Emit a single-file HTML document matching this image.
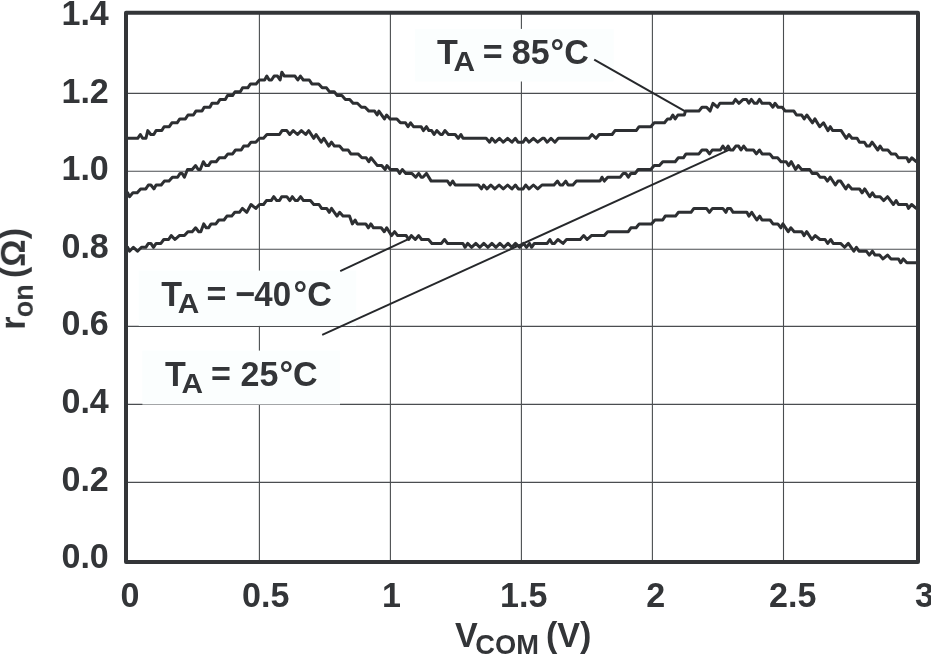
<!DOCTYPE html>
<html><head><meta charset="utf-8"><title>r_on vs V_COM</title>
<style>html,body{margin:0;padding:0;background:#fff;}body{width:931px;height:655px;overflow:hidden;position:relative;font-family:"Liberation Sans",sans-serif;}</style>
</head><body>
<svg width="931" height="655" viewBox="0 0 931 655" style="position:absolute;left:0;top:0">
<rect x="0" y="0" width="931" height="655" fill="#fff"/>
<line x1="259.4" y1="14" x2="259.4" y2="561" stroke="#4a4d50" stroke-width="1.1"/>
<line x1="390.4" y1="14" x2="390.4" y2="561" stroke="#4a4d50" stroke-width="1.1"/>
<line x1="521.4" y1="14" x2="521.4" y2="561" stroke="#4a4d50" stroke-width="1.1"/>
<line x1="652.4" y1="14" x2="652.4" y2="561" stroke="#4a4d50" stroke-width="1.1"/>
<line x1="783.5" y1="14" x2="783.5" y2="561" stroke="#4a4d50" stroke-width="1.1"/>
<line x1="127" y1="93.4" x2="917" y2="93.4" stroke="#4a4d50" stroke-width="1.1"/>
<line x1="127" y1="171.2" x2="917" y2="171.2" stroke="#4a4d50" stroke-width="1.1"/>
<line x1="127" y1="249.3" x2="917" y2="249.3" stroke="#4a4d50" stroke-width="1.1"/>
<line x1="127" y1="326.4" x2="917" y2="326.4" stroke="#4a4d50" stroke-width="1.1"/>
<line x1="127" y1="404.4" x2="917" y2="404.4" stroke="#4a4d50" stroke-width="1.1"/>
<line x1="127" y1="482.4" x2="917" y2="482.4" stroke="#4a4d50" stroke-width="1.1"/>
<rect x="415.2" y="28.9" width="198.5" height="52.6" fill="#fbfefe"/>
<rect x="138.8" y="270.6" width="217.4" height="55.3" fill="#fbfefe"/>
<rect x="142.4" y="350.6" width="197.6" height="53.9" fill="#fbfefe"/>
<line x1="594.2" y1="59.6" x2="684.8" y2="111.2" stroke="#26282b" stroke-width="1.95"/>
<line x1="340.2" y1="271.2" x2="410" y2="238.4" stroke="#26282b" stroke-width="1.95"/>
<line x1="322.2" y1="334.9" x2="730.6" y2="149.2" stroke="#26282b" stroke-width="1.95"/>
<path d="M127.5 138.3 L137.7 138.3 L140.3 134.5 L142.6 138.3 L145.9 138.3 L147.8 130.6 L150.8 134.5 L153.8 134.5 L156.1 130.6 L161.8 130.6 L164.1 126.7 L169.3 126.7 L171.9 122.8 L177.1 122.8 L179.8 118.9 L185.4 118.9 L188.0 115.0 L193.4 115.0 L195.9 111.1 L202.0 111.1 L204.2 107.2 L209.9 107.2 L212.0 103.3 L217.7 103.3 L220.0 99.4 L225.3 99.4 L227.5 95.6 L232.5 95.6 L235.0 91.7 L240.3 91.7 L242.6 87.8 L247.8 87.8 L250.5 83.9 L256.1 83.9 L259.5 80.0 L264.6 80.0 L266.8 76.1 L269.2 80.0 L271.5 80.0 L274.1 76.1 L277.5 76.1 L280.1 80.0 L281.8 72.2 L284.4 76.1 L295.0 76.1 L297.8 80.0 L300.4 76.1 L303.3 80.0 L309.3 80.0 L311.9 83.9 L318.7 83.9 L322.2 87.8 L326.5 87.8 L329.4 91.7 L334.2 91.7 L337.3 95.6 L341.9 95.6 L345.4 99.4 L349.7 99.4 L353.1 103.3 L357.4 103.3 L361.4 107.2 L365.1 107.2 L368.9 111.1 L374.6 111.1 L377.2 115.0 L378.9 111.1 L384.4 118.9 L386.6 115.0 L390.1 118.9 L396.9 118.9 L400.4 122.8 L405.5 122.8 L408.0 126.7 L410.6 122.8 L413.5 126.7 L421.2 126.7 L423.4 130.6 L426.5 126.7 L428.9 130.6 L431.7 130.6 L434.1 134.5 L436.8 130.6 L440.6 134.5 L442.3 134.5 L444.9 130.6 L448.4 134.5 L455.2 134.5 L458.2 138.3 L460.9 134.5 L463.0 138.3 L486.2 138.3 L489.6 142.2 L491.8 138.3 L495.3 142.2 L499.4 138.3 L503.3 142.2 L507.6 138.3 L511.9 142.2 L515.4 138.3 L518.0 142.2 L523.1 142.2 L525.7 138.3 L529.1 142.2 L533.4 138.3 L537.7 142.2 L542.4 138.3 L544.1 138.3 L547.2 142.2 L551.0 138.3 L554.9 142.2 L558.3 138.3 L588.9 138.3 L592.0 134.5 L596.1 138.3 L599.2 134.5 L612.1 134.5 L615.0 130.6 L636.2 130.6 L639.1 126.7 L650.8 126.7 L654.2 122.8 L664.5 122.8 L667.6 118.9 L670.5 118.9 L672.8 115.0 L675.2 118.9 L677.9 115.0 L684.3 115.0 L685.5 111.1 L698.9 111.1 L702.0 107.2 L706.6 107.2 L710.1 111.1 L713.0 103.3 L717.4 107.2 L719.9 103.3 L732.9 103.3 L735.5 99.4 L738.9 103.3 L743.2 99.4 L746.6 99.4 L748.9 103.3 L751.4 99.4 L754.4 103.3 L756.9 103.3 L759.5 99.4 L762.1 103.3 L769.8 103.3 L772.9 107.2 L775.0 103.3 L778.1 107.2 L782.2 107.2 L785.3 111.1 L793.9 111.1 L796.5 115.0 L801.6 115.0 L804.2 118.9 L806.8 115.0 L812.5 122.8 L814.9 118.9 L819.7 126.7 L823.5 122.8 L827.9 130.6 L830.3 126.7 L832.6 130.6 L841.2 130.6 L846.3 138.3 L848.9 134.5 L852.0 138.3 L857.1 138.3 L859.5 142.2 L864.4 142.2 L866.9 146.1 L869.5 146.1 L872.1 142.2 L877.8 150.0 L880.1 146.1 L882.7 150.0 L887.9 150.0 L891.3 153.9 L895.6 153.9 L898.5 157.8 L906.8 157.8 L908.8 161.7 L911.9 157.8 L916.2 161.7" fill="none" stroke="#2d2f32" stroke-width="3.0" stroke-linejoin="round" stroke-linecap="round"/>
<path d="M127.7 192.8 L129.5 196.7 L132.9 192.8 L137.2 192.8 L140.6 188.9 L145.8 188.9 L148.4 185.0 L150.9 185.0 L153.9 188.9 L156.1 185.0 L161.2 185.0 L164.3 181.1 L169.0 181.1 L172.4 177.2 L177.6 177.2 L180.1 173.4 L182.2 173.4 L184.4 177.2 L187.5 169.5 L192.2 169.5 L195.6 165.6 L198.2 169.5 L200.3 169.5 L203.3 161.7 L205.9 165.6 L208.5 165.6 L211.1 161.7 L216.2 161.7 L219.3 157.8 L224.8 157.8 L227.9 153.9 L232.6 153.9 L235.5 150.0 L241.2 150.0 L243.7 146.1 L248.0 146.1 L251.0 142.2 L255.8 142.2 L259.5 138.3 L263.5 138.3 L266.9 134.5 L279.5 134.5 L282.0 130.6 L286.8 130.6 L289.8 134.5 L293.2 130.6 L297.5 134.5 L301.4 130.6 L305.7 134.5 L308.7 130.6 L313.8 138.3 L316.1 134.5 L321.2 142.2 L323.8 138.3 L328.8 146.1 L331.5 142.2 L334.4 146.1 L339.6 146.1 L343.0 150.0 L348.2 150.0 L350.8 153.9 L358.0 153.9 L361.9 157.8 L366.2 157.8 L368.8 161.7 L371.0 157.8 L377.4 165.6 L381.7 165.6 L385.1 169.5 L386.9 165.6 L390.3 169.5 L397.2 169.5 L399.7 173.4 L402.3 169.5 L405.8 173.4 L411.8 173.4 L415.7 177.2 L418.7 173.4 L421.2 177.2 L422.9 177.2 L426.4 173.4 L431.2 181.1 L447.5 181.1 L450.1 185.0 L452.7 181.1 L455.2 185.0 L478.4 185.0 L481.5 188.9 L483.6 185.0 L487.0 188.9 L490.8 185.0 L494.8 188.9 L499.1 185.0 L503.3 188.9 L507.6 185.0 L511.9 188.9 L515.4 185.0 L518.3 188.9 L523.1 188.9 L525.7 185.0 L529.1 188.9 L533.4 185.0 L537.7 188.9 L542.0 185.0 L554.0 185.0 L557.5 181.1 L560.1 185.0 L562.6 185.0 L565.7 181.1 L568.1 185.0 L572.9 185.0 L576.4 181.1 L600.0 181.1 L602.0 177.2 L604.3 181.1 L607.7 177.2 L620.3 177.2 L623.2 173.4 L625.8 173.4 L628.3 177.2 L630.9 173.4 L635.2 173.4 L638.1 169.5 L650.8 169.5 L654.2 165.6 L659.4 165.6 L662.8 161.7 L675.2 161.7 L678.3 157.8 L683.4 157.8 L686.0 153.9 L698.9 153.9 L702.0 150.0 L706.6 150.0 L709.5 153.9 L712.3 150.0 L720.4 150.0 L722.9 146.1 L725.5 150.0 L728.1 146.1 L730.3 150.0 L732.9 150.0 L735.8 146.1 L738.6 146.1 L741.0 150.0 L743.7 146.1 L746.6 150.0 L753.5 150.0 L756.4 153.9 L759.5 150.0 L762.1 153.9 L769.8 153.9 L772.9 157.8 L777.6 157.8 L781.0 161.7 L786.2 161.7 L788.7 165.6 L791.3 161.7 L795.6 169.5 L798.2 165.6 L801.6 169.5 L809.7 169.5 L812.2 173.4 L817.1 173.4 L820.0 177.2 L824.6 177.2 L827.4 181.1 L830.3 177.2 L835.4 185.0 L838.0 181.1 L840.6 181.1 L845.8 188.9 L848.3 185.0 L851.8 188.9 L859.5 188.9 L862.1 192.8 L864.7 188.9 L869.8 196.7 L872.4 192.8 L875.0 196.7 L880.1 196.7 L883.6 200.6 L887.5 196.7 L893.4 204.5 L896.1 200.6 L898.5 204.5 L906.8 204.5 L908.5 208.4 L911.6 204.5 L916.2 208.4" fill="none" stroke="#2d2f32" stroke-width="3.0" stroke-linejoin="round" stroke-linecap="round"/>
<path d="M127.7 247.3 L129.5 251.2 L133.4 247.3 L137.5 251.2 L141.5 247.3 L145.8 247.3 L148.4 243.4 L150.9 243.4 L153.5 247.3 L156.1 243.4 L160.9 243.4 L163.8 239.5 L168.6 239.5 L171.2 235.6 L175.0 239.5 L179.3 235.6 L184.4 235.6 L187.9 231.7 L192.2 231.7 L195.6 227.8 L198.7 231.7 L200.8 231.7 L203.7 223.9 L206.3 227.8 L208.5 227.8 L211.1 223.9 L215.9 223.9 L218.8 220.0 L224.0 220.0 L226.9 216.1 L231.7 216.1 L234.8 212.3 L239.4 212.3 L242.4 208.4 L246.8 212.3 L251.0 204.5 L255.8 208.4 L259.5 204.5 L263.5 204.5 L266.4 200.6 L271.2 200.6 L273.8 196.7 L276.7 200.6 L279.5 200.6 L281.7 196.7 L286.8 196.7 L289.8 200.6 L292.3 196.7 L295.4 200.6 L297.5 200.6 L300.6 196.7 L303.5 200.6 L310.4 200.6 L313.8 204.5 L319.0 204.5 L321.6 208.4 L326.7 208.4 L329.3 212.3 L331.5 208.4 L337.0 216.1 L339.6 212.3 L343.0 216.1 L349.5 216.1 L352.4 223.9 L355.1 220.0 L357.2 223.9 L365.8 223.9 L368.4 227.8 L370.9 223.9 L373.5 227.8 L381.2 227.8 L384.3 231.7 L386.7 227.8 L391.6 235.6 L394.6 231.7 L397.6 235.6 L406.2 235.6 L408.7 239.5 L411.3 235.6 L415.3 239.5 L418.7 235.6 L421.6 239.5 L428.5 239.5 L431.9 243.4 L441.4 243.4 L444.5 239.5 L447.4 243.4 L462.9 243.4 L465.0 247.3 L467.7 243.4 L471.5 247.3 L475.8 243.4 L479.9 247.3 L483.8 243.4 L487.8 247.3 L491.9 243.4 L496.0 247.3 L499.9 243.4 L503.9 247.3 L508.0 243.4 L511.8 247.3 L515.5 243.4 L519.8 247.3 L523.6 243.4 L526.5 247.3 L529.5 243.4 L531.6 247.3 L534.3 243.4 L547.2 243.4 L549.9 239.5 L552.2 243.4 L554.4 243.4 L557.9 239.5 L563.0 243.4 L566.5 239.5 L580.2 239.5 L583.7 235.6 L587.1 239.5 L591.4 235.6 L604.3 235.6 L607.7 231.7 L628.3 231.7 L630.9 227.8 L636.1 227.8 L639.2 223.9 L651.5 223.9 L654.9 220.0 L662.7 220.0 L665.2 216.1 L675.5 216.1 L678.5 212.3 L691.0 212.3 L693.9 208.4 L706.5 208.4 L709.4 212.3 L712.5 208.4 L722.8 208.4 L725.9 212.3 L727.6 208.4 L730.5 208.4 L733.1 212.3 L746.9 212.3 L748.9 216.1 L751.7 212.3 L756.8 220.0 L759.7 216.1 L762.0 220.0 L770.1 220.0 L773.0 223.9 L777.8 223.9 L780.9 227.8 L782.9 223.9 L788.2 231.7 L790.8 227.8 L794.2 231.7 L801.9 231.7 L804.0 235.6 L806.7 231.7 L811.9 239.5 L815.3 235.6 L820.0 239.5 L825.1 239.5 L827.7 243.4 L830.8 239.5 L833.2 243.4 L840.6 243.4 L844.6 247.3 L848.3 243.4 L853.8 251.2 L856.4 247.3 L859.0 251.2 L866.4 251.2 L869.3 255.1 L872.4 251.2 L875.0 255.1 L879.6 255.1 L883.0 258.9 L887.5 255.1 L891.0 258.9 L898.5 258.9 L900.7 262.8 L903.3 258.9 L906.8 262.8 L916.2 262.8" fill="none" stroke="#2d2f32" stroke-width="3.0" stroke-linejoin="round" stroke-linecap="round"/>
<rect x="126" y="12.8" width="792" height="549.2" fill="none" stroke="#333538" stroke-width="4" stroke-linejoin="round"/>
<g opacity="0.999">
<text transform="translate(108.8 24.9) scale(0.96 1)" text-anchor="end" font-size="35.5" font-family="Liberation Sans, sans-serif" font-weight="bold" fill="#333538">1.4</text>
<text transform="translate(108.8 102.5) scale(0.96 1)" text-anchor="end" font-size="35.5" font-family="Liberation Sans, sans-serif" font-weight="bold" fill="#333538">1.2</text>
<text transform="translate(108.8 180.1) scale(0.96 1)" text-anchor="end" font-size="35.5" font-family="Liberation Sans, sans-serif" font-weight="bold" fill="#333538">1.0</text>
<text transform="translate(108.8 257.7) scale(0.96 1)" text-anchor="end" font-size="35.5" font-family="Liberation Sans, sans-serif" font-weight="bold" fill="#333538">0.8</text>
<text transform="translate(108.8 335.3) scale(0.96 1)" text-anchor="end" font-size="35.5" font-family="Liberation Sans, sans-serif" font-weight="bold" fill="#333538">0.6</text>
<text transform="translate(108.8 412.9) scale(0.96 1)" text-anchor="end" font-size="35.5" font-family="Liberation Sans, sans-serif" font-weight="bold" fill="#333538">0.4</text>
<text transform="translate(108.8 490.5) scale(0.96 1)" text-anchor="end" font-size="35.5" font-family="Liberation Sans, sans-serif" font-weight="bold" fill="#333538">0.2</text>
<text transform="translate(108.8 568.1) scale(0.96 1)" text-anchor="end" font-size="35.5" font-family="Liberation Sans, sans-serif" font-weight="bold" fill="#333538">0.0</text>
<text transform="translate(120.5 606.6) scale(0.96 1)" font-size="35.5" font-family="Liberation Sans, sans-serif" font-weight="bold" fill="#333538">0</text>
<text transform="translate(242.1 606.6) scale(0.96 1)" font-size="35.5" font-family="Liberation Sans, sans-serif" font-weight="bold" fill="#333538">0.5</text>
<text transform="translate(382.1 606.6) scale(0.96 1)" font-size="35.5" font-family="Liberation Sans, sans-serif" font-weight="bold" fill="#333538">1</text>
<text transform="translate(500.1 606.6) scale(0.96 1)" font-size="35.5" font-family="Liberation Sans, sans-serif" font-weight="bold" fill="#333538">1.5</text>
<text transform="translate(646.2 606.6) scale(0.96 1)" font-size="35.5" font-family="Liberation Sans, sans-serif" font-weight="bold" fill="#333538">2</text>
<text transform="translate(769.1 606.6) scale(0.96 1)" font-size="35.5" font-family="Liberation Sans, sans-serif" font-weight="bold" fill="#333538">2.5</text>
<text transform="translate(915.0 606.6) scale(0.96 1)" font-size="35.5" font-family="Liberation Sans, sans-serif" font-weight="bold" fill="#333538">3</text>
<text transform="translate(436.9 64.1) scale(0.96 1)" font-size="35.5" font-family="Liberation Sans, sans-serif" font-weight="bold" fill="#333538">T</text>
<text transform="translate(453.5 70.7) scale(1.05 1)" font-size="28.4" font-family="Liberation Sans, sans-serif" font-weight="bold" fill="#333538">A</text>
<text transform="translate(482.7 64.1) scale(0.96 1)" font-size="35.5" font-family="Liberation Sans, sans-serif" font-weight="bold" fill="#333538">=</text>
<text transform="translate(511.7 64.1) scale(0.96 1)" font-size="35.5" font-family="Liberation Sans, sans-serif" font-weight="bold" fill="#333538">85</text>
<text transform="translate(550.6 64.1) scale(0.96 1)" font-size="35.5" font-family="Liberation Sans, sans-serif" font-weight="bold" fill="#333538">°C</text>
<text transform="translate(161.3 305.9) scale(0.96 1)" font-size="35.5" font-family="Liberation Sans, sans-serif" font-weight="bold" fill="#333538">T</text>
<text transform="translate(177.7 312.5) scale(1.05 1)" font-size="28.4" font-family="Liberation Sans, sans-serif" font-weight="bold" fill="#333538">A</text>
<text transform="translate(206.6 305.9) scale(0.96 1)" font-size="35.5" font-family="Liberation Sans, sans-serif" font-weight="bold" fill="#333538">=</text>
<text transform="translate(235.5 305.9) scale(0.96 1)" font-size="35.5" font-family="Liberation Sans, sans-serif" font-weight="bold" fill="#333538">−</text>
<text transform="translate(254.3 305.9) scale(0.93 1)" font-size="35.5" font-family="Liberation Sans, sans-serif" font-weight="bold" fill="#333538">40</text>
<text transform="translate(293.6 305.9) scale(0.96 1)" font-size="35.5" font-family="Liberation Sans, sans-serif" font-weight="bold" fill="#333538">°C</text>
<text transform="translate(165.1 385.9) scale(0.96 1)" font-size="35.5" font-family="Liberation Sans, sans-serif" font-weight="bold" fill="#333538">T</text>
<text transform="translate(181.5 392.5) scale(1.05 1)" font-size="28.4" font-family="Liberation Sans, sans-serif" font-weight="bold" fill="#333538">A</text>
<text transform="translate(211.0 385.9) scale(0.96 1)" font-size="35.5" font-family="Liberation Sans, sans-serif" font-weight="bold" fill="#333538">=</text>
<text transform="translate(240.6 385.9) scale(0.96 1)" font-size="35.5" font-family="Liberation Sans, sans-serif" font-weight="bold" fill="#333538">25</text>
<text transform="translate(279.4 385.9) scale(0.96 1)" font-size="35.5" font-family="Liberation Sans, sans-serif" font-weight="bold" fill="#333538">°C</text>
<text transform="translate(455.0 646.6) scale(0.96 1)" font-size="35.5" font-family="Liberation Sans, sans-serif" font-weight="bold" fill="#333538">V</text>
<text transform="translate(475.3 654.2) scale(0.96 1)" font-size="28.4" font-family="Liberation Sans, sans-serif" font-weight="bold" fill="#333538">COM</text>
<text transform="translate(546.0 646.6) scale(0.96 1)" font-size="35.5" font-family="Liberation Sans, sans-serif" font-weight="bold" fill="#333538">(V)</text>
<g transform="translate(24.8,0) rotate(-90)">
<text transform="translate(-329.8 0) scale(0.96 1)" font-size="35.5" font-family="Liberation Sans, sans-serif" font-weight="bold" fill="#333538">r</text>
<text transform="translate(-317.2 7.6) scale(0.95 1)" font-size="28.4" font-family="Liberation Sans, sans-serif" font-weight="bold" fill="#333538">on</text>
<text transform="translate(-278.0 0) scale(0.96 1)" font-size="35.5" font-family="Liberation Sans, sans-serif" font-weight="bold" fill="#333538">(Ω)</text>
</g>
</g>
</svg>
</body></html>
